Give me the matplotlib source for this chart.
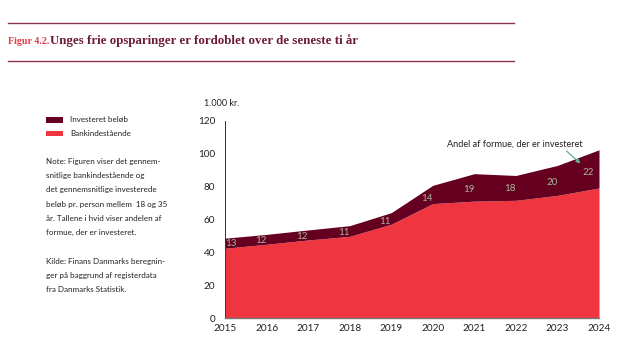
import numpy as np
import matplotlib
matplotlib.use("Agg")
import matplotlib.pyplot as plt
from matplotlib.patches import Rectangle
from matplotlib.lines import Line2D

years = [2015, 2016, 2017, 2018, 2019, 2020, 2021, 2022, 2023, 2024]
bank = [42.4, 44.8, 47.4, 49.6, 57.0, 69.5, 71.0, 71.5, 74.5, 79.0]
invested = [6.1, 6.0, 6.1, 6.5, 7.0, 11.1, 16.7, 15.1, 18.2, 23.2]
share_labels = ["13", "12", "12", "11", "11", "14", "19", "18", "20", "22"]
yticks = [0, 20, 40, 60, 80, 100, 120]

title_prefix = "Figur 4.2."
title_main = "Unges frie opsparinger er fordoblet over de seneste ti år"
legend_labels = ["Investeret beløb", "Bankindestående"]
note_lines = ["Note: Figuren viser det gennem-",
              "snitlige bankindestående og",
              "det gennemsnitlige investerede",
              "beløb pr. person mellem  18 og 35",
              "år. Tallene i hvid viser andelen af",
              "formue, der er investeret."]
source_lines = ["Kilde: Finans Danmarks beregnin-",
                "ger på baggrund af registerdata",
                "fra Danmarks Statistik."]
annot_text = "Andel af formue, der er investeret"
unit_label = "1.000 kr."

DARK = "#660020"
RED = "#ef3640"
LABEL_C = "#a7b79c"
ARROW_C = "#5fae8c"
RULE_C = "#8a3352"
TITLE_C = "#6e1a36"
SANS = ["Lato", "DejaVu Sans"]

W, H = 624, 352
fig = plt.figure(figsize=(W / 100, H / 100), dpi=100)

def fx(px):
    return px / W

def fy(py):
    return 1 - py / H

# rules
for yy in (23.3, 61.3):
    fig.add_artist(Line2D([fx(7.5), fx(514)], [fy(yy), fy(yy)], color=RULE_C, lw=1.0))

# title
fig.text(fx(7.5), fy(44), title_prefix, color="#e23a4c", fontsize=7.2,
         family="Liberation Serif", fontweight="bold", va="baseline", ha="left")
fig.text(fx(50.5), fy(44), title_main, color=TITLE_C, fontsize=9.3,
         family="Liberation Serif", fontweight="bold", va="baseline", ha="left")

# legend
for i, (lab, col) in enumerate(zip(legend_labels, [DARK, RED])):
    yc = 120 + i * 13.5
    fig.add_artist(Rectangle((fx(45.5), fy(yc + 2.6)), fx(62.5) - fx(45.5), (5.2) / H,
                             color=col, lw=0))
    fig.text(fx(70.5), fy(yc), lab, fontsize=5.8, family=SANS, va="center", ha="left",
             color="#222222")

for i, line in enumerate(note_lines):
    fig.text(fx(45.5), fy(161.7 + i * 14.1), line, fontsize=5.8, family=SANS,
             va="center", ha="left", color="#222222")
for i, line in enumerate(source_lines):
    fig.text(fx(45.5), fy(261.7 + i * 13.9), line, fontsize=5.8, family=SANS,
             va="center", ha="left", color="#222222")

# axes
ax = fig.add_axes([fx(225), fy(318), fx(599) - fx(225), (318 - 120.5) / H])
x = np.array(years, dtype=float)
b = np.array(bank)
tot = b + np.array(invested)
ax.fill_between(x, 0, b, color=RED, lw=0)
ax.fill_between(x, b, tot, color=DARK, lw=0)
ax.set_xlim(years[0], years[-1])
ax.set_ylim(0, 120)
ax.set_xticks(years)
ax.set_xticklabels([str(y) for y in years])
ax.set_yticks(yticks)
for s in ("top", "right"):
    ax.spines[s].set_visible(False)
ax.spines["left"].set_color("#333333")
ax.spines["left"].set_linewidth(0.7)
ax.spines["bottom"].set_color("#777777")
ax.spines["bottom"].set_linewidth(1.0)
ax.tick_params(length=0, labelsize=7.2, colors="#222222", pad=4)
ax.tick_params(axis="y", pad=7)
for lbl in ax.get_xticklabels() + ax.get_yticklabels():
    lbl.set_family(SANS)

# share labels
for yr, lab in zip(years, share_labels):
    lx = min(max(yr - 0.14, years[0] + 0.14), years[-1] - 0.26)
    lo = np.interp(lx, x, b)
    hi = np.interp(lx, x, tot)
    ax.text(lx, lo + 0.5 * (hi - lo) - 0.5, lab, color=LABEL_C, fontsize=7,
            family=SANS, ha="center", va="center")

fig.text(fx(204), fy(104), unit_label, fontsize=6.5, family=SANS, va="center",
         ha="left", color="#222222")

# annotation
fig.text(fx(515), fy(144), annot_text, fontsize=6.6, family=SANS, va="center",
         ha="center", color="#222222")
ax.annotate("", xy=(fx(580.5), fy(163.5)), xycoords="figure fraction",
            xytext=(fx(566.5), fy(151)), textcoords="figure fraction",
            arrowprops=dict(arrowstyle="-|>", color=ARROW_C, lw=0.9,
                            mutation_scale=6, shrinkA=0, shrinkB=0))

fig.savefig("out.png", dpi=100)
